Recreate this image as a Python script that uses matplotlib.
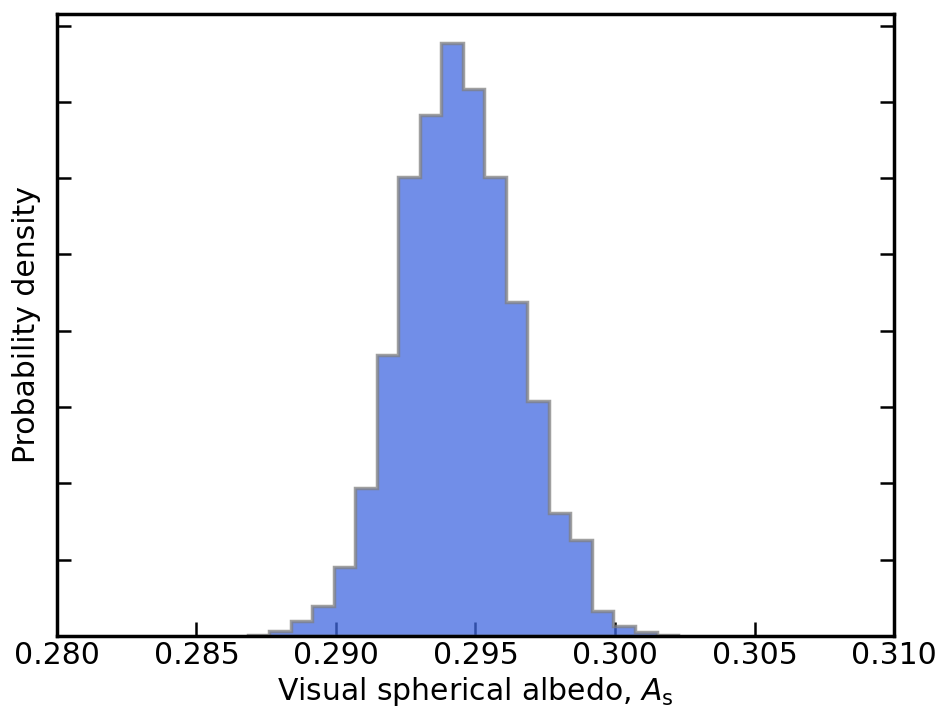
import matplotlib
matplotlib.use("Agg")
import matplotlib.pyplot as plt
import numpy as np

# histogram (probability density per bin)
bin_start = 0.28683
bin_width = 0.0007715
density = [0.2, 1.6, 5.0, 9.8, 22.5, 48.5, 92.1, 150.5, 170.7, 194.2,
           179.1, 150.5, 109.5, 77.1, 40.2, 31.5, 8.3, 3.3, 1.4, 0.2]
xticks = [0.280, 0.285, 0.290, 0.295, 0.300, 0.305, 0.310]

edges = bin_start + bin_width * np.arange(len(density) + 1)

fig = plt.figure(figsize=(9.51, 7.26), dpi=100)
ax = fig.add_axes([0.0599, 0.124, 0.8802, 0.8567])

ax.hist(edges[:-1], bins=edges, weights=density, histtype='stepfilled',
        facecolor='royalblue', edgecolor='gray', linewidth=2.5, alpha=0.75)

ax.set_xlim(0.280, 0.310)
ax.set_ylim(0, 203.8)
ax.set_xticks(xticks)
ax.set_xticklabels(['%.3f' % t for t in xticks])
ax.set_yticks(np.arange(0, 201, 25))
ax.set_yticklabels([])
ax.set_axisbelow(True)

ax.tick_params(axis='x', direction='in', length=10, width=1.8, labelsize=21.5, top=False)
ax.tick_params(axis='y', direction='in', length=10, width=1.8, left=True, right=True)
for s in ax.spines.values():
    s.set_linewidth(2.5)

ax.set_xlabel(r'Visual spherical albedo, $A_\mathrm{s}$', fontsize=21.5)
ax.set_ylabel('Probability density', fontsize=21.5, labelpad=8)

fig.savefig('out.png', dpi=100)
